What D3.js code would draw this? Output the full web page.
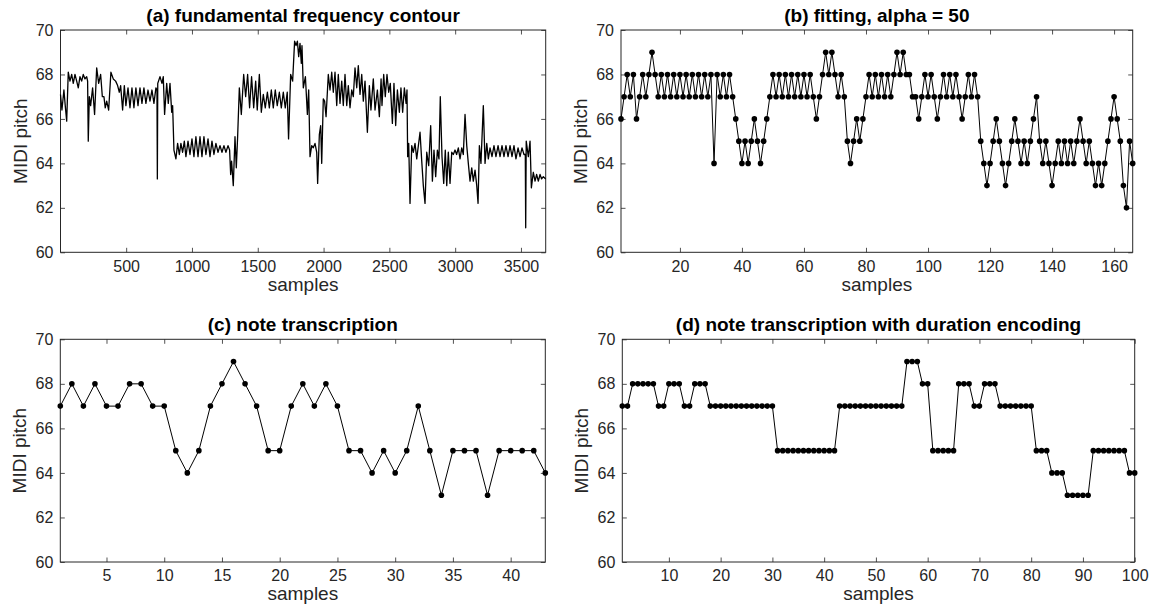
<!DOCTYPE html>
<html>
<head>
<meta charset="utf-8">
<script src="https://cdn.jsdelivr.net/npm/d3@7"></script>
<style>
  body { margin: 0; background: #fff; }
  text { font-family: "Liberation Sans", Arial, Helvetica, sans-serif; }
</style>
</head>
<body>
<div id="fig"></div>
<script>
// ---- data ----
var yTicks = [60, 62, 64, 66, 68, 70];

// (a) fundamental frequency contour: vertices (sample, pitch)
var contourSample = [1,12,27,37,48,60,73,86,98,111,124,136,149,162,174,187,200,207,212,220,230,245,260,276,291,306,319,331,341,352,367,384,402,420,435,448,458,473,486,498,514,529,544,559,574,590,605,620,635,650,666,681,696,711,726,734,737,740,757,772,782,792,808,820,833,846,853,863,878,891,904,916,929,942,954,970,985,1000,1015,1030,1046,1061,1076,1091,1106,1122,1137,1152,1167,1182,1198,1213,1228,1243,1258,1274,1286,1294,1301,1314,1327,1337,1347,1360,1375,1393,1408,1423,1438,1453,1469,1484,1496,1512,1527,1542,1557,1573,1588,1603,1618,1633,1648,1664,1679,1694,1709,1724,1734,1750,1765,1780,1791,1801,1811,1821,1831,1836,1846,1862,1877,1887,1897,1910,1922,1935,1948,1955,1968,1978,1986,1998,2008,2019,2036,2049,2062,2074,2087,2100,2112,2125,2138,2150,2163,2176,2188,2201,2214,2226,2239,2252,2264,2277,2290,2302,2315,2333,2348,2360,2378,2391,2409,2424,2437,2444,2457,2469,2482,2495,2507,2523,2535,2548,2561,2576,2588,2601,2614,2627,2634,2639,2647,2657,2670,2682,2695,2708,2733,2746,2758,2771,2784,2799,2814,2827,2839,2852,2865,2877,2887,2900,2913,2925,2936,2948,2961,2974,2986,2999,3011,3024,3037,3050,3062,3075,3088,3100,3113,3126,3138,3151,3164,3174,3184,3196,3214,3227,3240,3252,3265,3280,3295,3310,3326,3341,3356,3371,3386,3402,3417,3432,3447,3462,3478,3493,3508,3523,3533,3536,3540,3556,3569,3579,3594,3607,3619,3632,3645,3657,3670,3688];
var contourPitch = [67.1,66.4,67.3,66.6,65.9,68.1,67.7,68.0,67.6,68.0,67.7,67.4,67.9,67.7,68.0,67.8,67.9,67.7,65.0,67.0,66.6,67.4,66.2,68.3,67.6,68.0,67.0,67.0,66.5,66.8,66.4,68.1,67.8,67.7,67.5,67.2,67.5,66.4,67.5,66.6,67.4,66.5,67.4,66.5,67.4,66.6,67.4,66.7,67.4,66.7,67.3,66.8,67.3,66.7,67.4,67.3,63.3,67.6,67.9,67.6,67.9,66.2,67.6,66.7,67.6,66.3,66.6,64.6,64.2,64.9,64.4,64.9,64.5,65.0,64.3,65.0,64.4,65.1,64.3,65.2,64.3,65.2,64.3,65.2,64.4,65.1,64.3,65.0,64.4,64.9,64.5,64.8,64.5,64.8,64.5,64.8,64.6,63.5,64.1,63.0,65.2,63.8,65.2,67.4,66.2,68.0,67.0,68.0,66.5,67.9,66.5,67.7,66.4,68.0,66.3,67.1,66.5,67.2,66.5,67.3,66.5,67.3,66.6,67.2,66.5,67.2,66.5,67.2,65.1,68.0,67.7,69.5,69.3,69.5,68.8,69.4,68.5,69.3,67.4,67.9,66.2,67.3,64.3,64.8,64.7,64.9,64.5,63.1,65.3,65.7,64.0,66.9,66.8,66.1,68.0,67.3,68.1,67.2,68.1,66.6,68.0,66.7,67.7,66.6,68.0,66.6,67.5,66.5,67.3,67.0,68.3,67.4,68.4,67.1,68.0,66.8,67.7,65.4,67.5,66.4,67.8,66.4,67.3,66.1,67.8,66.6,68.0,67.0,68.0,67.2,67.6,65.8,67.6,65.7,67.3,66.3,67.4,66.3,67.4,66.7,67.3,64.3,64.9,62.2,64.8,64.5,64.9,64.2,65.4,64.1,63.0,62.2,64.5,63.9,65.7,63.2,64.6,63.4,64.6,64.2,67.0,64.3,63.1,64.6,63.0,64.5,63.1,64.5,64.4,64.6,64.4,64.7,64.2,64.7,64.4,66.2,64.8,64.0,63.2,63.8,63.2,63.7,63.0,62.2,64.8,64.0,66.6,64.0,64.9,64.2,64.7,64.3,64.8,64.3,64.8,64.3,64.8,64.3,64.8,64.3,64.8,64.3,64.8,64.2,64.7,64.3,64.7,64.4,64.4,61.1,65.0,64.3,65.0,62.9,63.6,63.2,63.5,63.2,63.5,63.3,63.4,63.3];
var contourTicks = [500, 1000, 1500, 2000, 2500, 3000, 3500];

// (b) fitting, alpha = 50 (samples 1..166)
var fitPitch = [66,67,68,67,68,66,67,68,67,68,69,
  68,67,68,67,68,67,68,67,68,67,68,67,68,67,68,67,68,67,68,
  64,68,67,68,67,68,67,66,
  65,64,65,64,65,66,65,64,65,66,67,
  68,67,68,67,68,67,68,67,68,67,68,67,68,67,
  66,67,68,69,68,69,68,67,68,67,
  65,64,65,66,65,66,67,
  68,67,68,67,68,67,68,67,68,
  69,68,69,68,68,67,67,66,67,68,67,68,67,66,
  67,68,67,68,67,68,67,66,67,68,67,68,67,
  65,64,63,64,65,66,65,64,63,64,65,66,65,64,65,64,65,66,67,65,64,65,64,63,
  64,65,64,65,64,65,64,65,66,65,64,65,64,63,64,63,64,65,66,67,66,65,63,62,65,64];
var fitTicks = [20, 40, 60, 80, 100, 120, 140, 160];

// (c) note transcription (samples 1..43)
var notePitch = [67,68,67,68,67,67,68,68,67,67,65,64,65,67,68,69,68,67,65,65,67,68,67,68,67,65,65,64,65,64,65,67,65,63,65,65,65,63,65,65,65,65,64];
var noteTicks = [5, 10, 15, 20, 25, 30, 35, 40];

// (d) note transcription with duration encoding (samples 1..100)
var durPitch = [67,67,68,68,68,68,68,67,67,68,68,68,67,67,68,68,68,
  67,67,67,67,67,67,67,67,67,67,67,67,67,
  65,65,65,65,65,65,65,65,65,65,65,65,
  67,67,67,67,67,67,67,67,67,67,67,67,67,
  69,69,69,68,68,65,65,65,65,65,68,68,68,67,67,68,68,68,
  67,67,67,67,67,67,67,65,65,65,64,64,64,63,63,63,63,63,
  65,65,65,65,65,65,65,64,64];
var durTicks = [10, 20, 30, 40, 50, 60, 70, 80, 90, 100];

// ---- figure ----
var width = 1155, height = 608;
var axisColor = "#262626";

var svg = d3.select("#fig").append("svg")
  .attr("width", width)
  .attr("height", height)
  .style("background", "#fff");

function toPoints(xs, ys) {
  return ys.map(function (v, i) { return { x: xs ? xs[i] : i + 1, y: v }; });
}

var panels = [
  { title: "(a) fundamental frequency contour", left: 60.5, right: 545.7, top: 30, bottom: 252.3,
    xMax: 3688, ticks: contourTicks, pts: toPoints(contourSample, contourPitch), dots: false, labelY: 291 },
  { title: "(b) fitting, alpha = 50", left: 621, right: 1132.7, top: 30, bottom: 252.3,
    xMax: fitPitch.length, ticks: fitTicks, pts: toPoints(null, fitPitch), dots: true, labelY: 291 },
  { title: "(c) note transcription", left: 60.3, right: 545.3, top: 339.3, bottom: 562,
    xMax: notePitch.length, ticks: noteTicks, pts: toPoints(null, notePitch), dots: true, labelY: 600 },
  { title: "(d) note transcription with duration encoding", left: 622.3, right: 1134.7, top: 339.3, bottom: 562,
    xMax: durPitch.length, ticks: durTicks, pts: toPoints(null, durPitch), dots: true, labelY: 600 }
];

panels.forEach(function (p) {
  var x = d3.scaleLinear().domain([1, p.xMax]).range([p.left, p.right]);
  var y = d3.scaleLinear().domain([60, 70]).range([p.bottom, p.top]);
  var g = svg.append("g");

  // ticks (inward, mirrored on top/right like a boxed plot)
  var xb = g.append("g").attr("transform", "translate(0," + p.bottom + ")")
    .call(d3.axisBottom(x).tickValues(p.ticks).tickFormat(d3.format("d"))
      .tickSizeInner(-4.5).tickSizeOuter(0).tickPadding(8));
  var xt = g.append("g").attr("transform", "translate(0," + p.top + ")")
    .call(d3.axisTop(x).tickValues(p.ticks).tickSizeInner(-4.5).tickSizeOuter(0).tickFormat(""));
  var yl = g.append("g").attr("transform", "translate(" + p.left + ",0)")
    .call(d3.axisLeft(y).tickValues(yTicks).tickFormat(d3.format("d"))
      .tickSizeInner(-4.5).tickSizeOuter(0).tickPadding(7));
  var yr = g.append("g").attr("transform", "translate(" + p.right + ",0)")
    .call(d3.axisRight(y).tickValues(yTicks).tickSizeInner(-4.5).tickSizeOuter(0).tickFormat(""));

  [xb, xt, yl, yr].forEach(function (a) {
    a.select(".domain").remove();
    a.selectAll("line").attr("stroke", axisColor).attr("stroke-width", 0.8);
    a.selectAll("text")
      .attr("fill", axisColor)
      .style("font-family", '"Liberation Sans", Arial, Helvetica, sans-serif')
      .style("font-size", "16px");
  });

  // box
  g.append("rect")
    .attr("x", p.left).attr("y", p.top)
    .attr("width", p.right - p.left).attr("height", p.bottom - p.top)
    .attr("fill", "none").attr("stroke", axisColor).attr("stroke-width", 1);

  // data line
  g.append("path")
    .datum(p.pts)
    .attr("fill", "none")
    .attr("stroke", "#000")
    .attr("stroke-width", p.dots ? 1 : 1.3)
    .attr("stroke-linejoin", "round")
    .attr("d", d3.line().x(function (d) { return x(d.x); }).y(function (d) { return y(d.y); }));

  if (p.dots) {
    g.selectAll(".dot")
      .data(p.pts)
      .enter().append("circle")
      .attr("class", "dot")
      .attr("cx", function (d) { return x(d.x); })
      .attr("cy", function (d) { return y(d.y); })
      .attr("r", 2.8)
      .attr("fill", "#000");
  }

  // titles
  g.append("text")
    .attr("x", (p.left + p.right) / 2)
    .attr("y", p.top - 8)
    .attr("text-anchor", "middle")
    .attr("font-weight", "bold")
    .attr("font-size", "19px")
    .attr("fill", "#000")
    .text(p.title);

  g.append("text")
    .attr("x", (p.left + p.right) / 2)
    .attr("y", p.labelY)
    .attr("text-anchor", "middle")
    .attr("font-size", "19px")
    .attr("fill", axisColor)
    .text("samples");

  g.append("text")
    .attr("transform", "translate(" + (p.left - 34) + "," + ((p.top + p.bottom) / 2) + ") rotate(-90)")
    .attr("text-anchor", "middle")
    .attr("font-size", "19px")
    .attr("fill", axisColor)
    .text("MIDI pitch");
});
</script>
</body>
</html>
